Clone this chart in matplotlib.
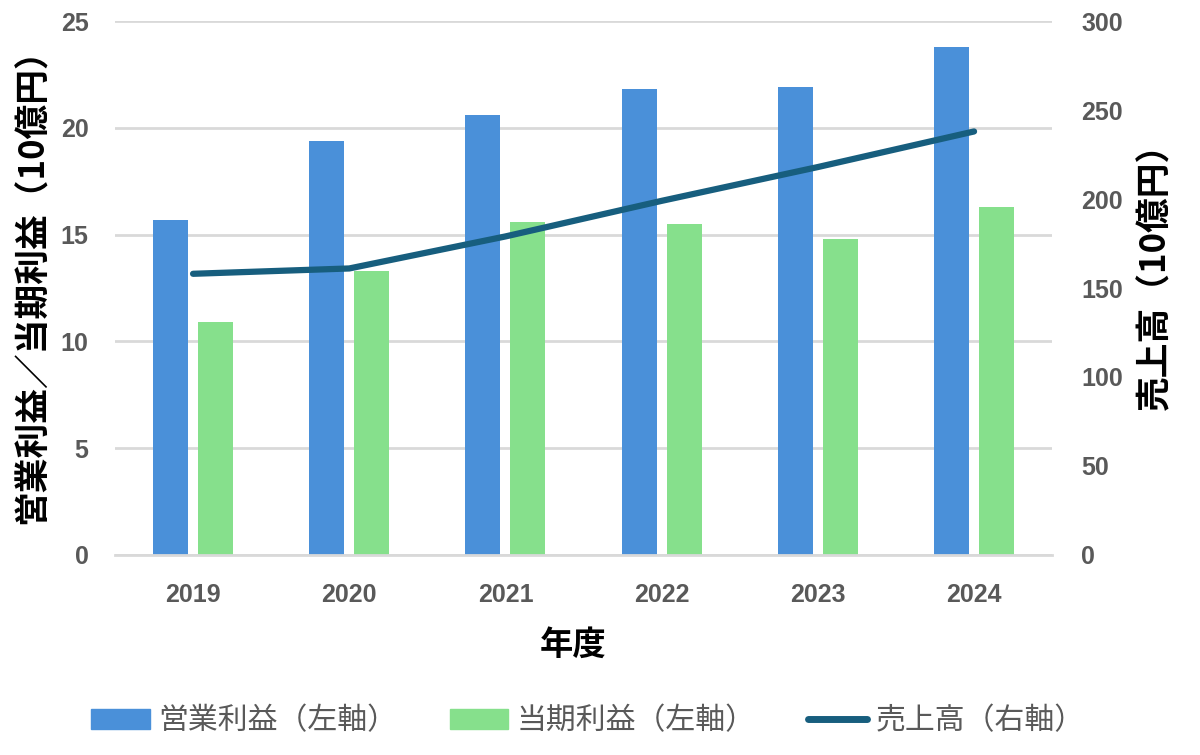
import matplotlib.pyplot as plt
import numpy as np
from matplotlib.patches import Patch
from matplotlib.lines import Line2D

plt.rcParams['font.family'] = ['Noto Sans CJK JP', 'DejaVu Sans']

years = ['2019', '2020', '2021', '2022', '2023', '2024']
eigyo = [15.7, 19.4, 20.6, 21.8, 21.9, 23.8]   # 営業利益
touki = [10.9, 13.3, 15.6, 15.5, 14.8, 16.3]   # 当期利益
uriage = [158, 161, 179, 199, 218, 238]        # 売上高

c_blue = '#4a90d9'
c_green = '#86e08c'
c_line = '#175e7e'
c_grid = '#d9d9d9'
c_tick = '#595959'

fig = plt.figure(figsize=(12, 7.55), dpi=100)
ax = fig.add_axes([0.0958, 0.265, 0.781, 0.707])
ax2 = ax.twinx()

x = np.arange(len(years))
w = 0.224
ax.bar(x - 0.144, eigyo, w, color=c_blue, zorder=2)
ax.bar(x + 0.144, touki, w, color=c_green, zorder=2)
ax2.plot(x, uriage, color=c_line, lw=4.5, solid_capstyle='round', zorder=3)

ax.set_xlim(-0.5, 5.5)
ax.set_ylim(0, 25)
ax2.set_ylim(0, 300)
ax.set_yticks(np.arange(0, 26, 5))
ax2.set_yticks(np.arange(0, 301, 50))
ax.set_xticks(x)
ax.set_xticklabels(years)

ax.grid(axis='y', color=c_grid, lw=2, zorder=0)
ax.set_axisbelow(True)
for a in (ax, ax2):
    for s in a.spines.values():
        s.set_visible(False)
ax.spines['bottom'].set_visible(True)
ax.spines['bottom'].set_color(c_grid)
ax.spines['bottom'].set_linewidth(2)

tick_font = dict(family='Liberation Sans', weight='bold', size=18)
ax.tick_params(axis='both', length=0, colors=c_tick)
ax2.tick_params(axis='y', length=0, colors=c_tick)
ax.tick_params(axis='y', pad=19)
ax.tick_params(axis='x', pad=20)
ax2.tick_params(axis='y', pad=21)
for lab in ax.get_xticklabels() + ax.get_yticklabels() + ax2.get_yticklabels():
    lab.set_fontproperties(tick_font)
    lab.set_color(c_tick)

ax.set_ylabel('営業利益／当期利益（10億円）', fontsize=25, weight='bold')
ax2.set_ylabel('売上高（10億円）', fontsize=25, weight='bold')
ax.set_xlabel('年度', fontsize=24, weight='bold')
ax.yaxis.set_label_coords(-0.0886, 0.519)
ax2.yaxis.set_label_coords(1.110, 0.537)
ax.xaxis.set_label_coords(0.489, -0.1685)
for lab in (ax.yaxis.label, ax2.yaxis.label, ax.xaxis.label):
    lab.set_verticalalignment('center')
    lab.set_horizontalalignment('center')

handles = [Patch(color=c_blue), Patch(color=c_green),
           Line2D([0], [0], color=c_line, lw=5, solid_capstyle='round')]
labels = ['営業利益（左軸）', '当期利益（左軸）', '売上高（右軸）']
fig.legend(handles, labels, loc='center', bbox_to_anchor=(0.49, 0.045), ncol=3,
           frameon=False, fontsize=21.5, labelcolor=c_tick, handlelength=1.95,
           handleheight=0.65, handletextpad=0.3, columnspacing=1.75)

fig.savefig('out.png', dpi=100)
